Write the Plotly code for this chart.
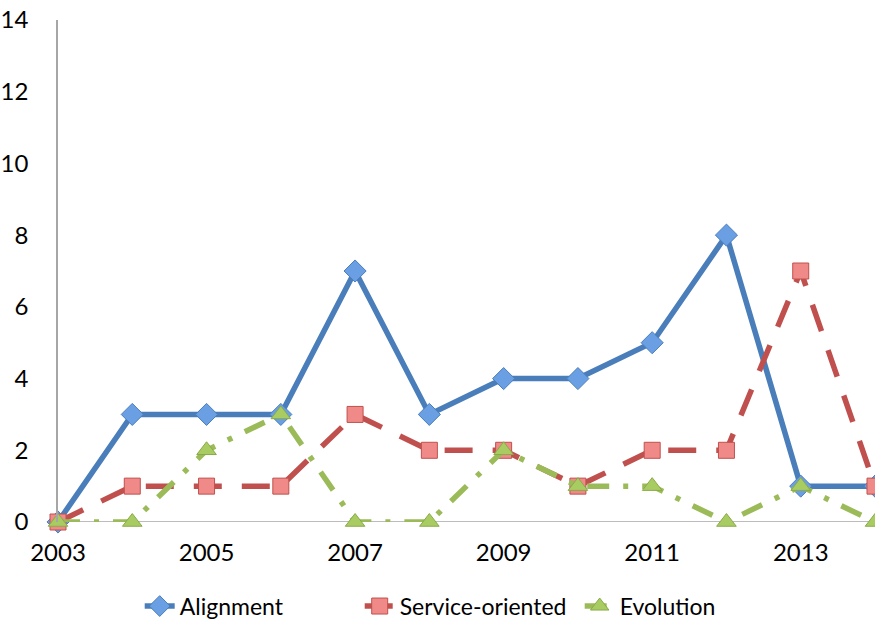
import plotly.graph_objects as go

years = [2003, 2004, 2005, 2006, 2007, 2008, 2009, 2010, 2011, 2012, 2013, 2014]
alignment = [0, 3, 3, 3, 7, 3, 4, 4, 5, 8, 1, 1]
service_oriented = [0, 1, 1, 1, 3, 2, 2, 1, 2, 2, 7, 1]
evolution = [0, 0, 2, 3, 0, 0, 2, 1, 1, 0, 1, 0]

x_ticks = [2003, 2005, 2007, 2009, 2011, 2013]
y_ticks = [0, 2, 4, 6, 8, 10, 12, 14]

FONT = 'Lato, "Open Sans", sans-serif'

fig = go.Figure()
fig.add_trace(go.Scatter(
    name='Alignment', x=years, y=alignment, mode='lines+markers',
    line=dict(color='#4A7EBB', width=5.5),
    marker=dict(symbol='diamond', size=17, color='#6A9FE3', line=dict(color='#4A7EBB', width=1)),
    cliponaxis=False,
))
fig.add_trace(go.Scatter(
    name='Service-oriented', x=years, y=service_oriented, mode='lines+markers',
    line=dict(color='#C0504D', width=5.5, dash='28px,20px'),
    marker=dict(symbol='square', size=16, color='#F08A88', line=dict(color='#C0504D', width=1)),
    cliponaxis=False,
))
fig.add_trace(go.Scatter(
    name='Evolution', x=years, y=evolution, mode='lines+markers',
    line=dict(color='#9BBB59', width=5.5, dash='22px,14px,5px,14px'),
    marker=dict(symbol='triangle-up', size=17, color='#A8CC62', line=dict(color='#8AAA48', width=1)),
    cliponaxis=False,
))

fig.update_layout(
    width=875, height=621,
    paper_bgcolor='white', plot_bgcolor='white',
    font=dict(family=FONT, size=23, color='black'),
    margin=dict(l=58, r=0, t=20, b=99, autoexpand=False),
    showlegend=True,
    legend=dict(
        orientation='h', xanchor='left', x=0.1, yanchor='middle',
        yref='container', y=0.024,
        font=dict(size=23), entrywidth=175, bgcolor='rgba(0,0,0,0)',
    ),
    xaxis=dict(
        range=[2003, 2014], tickvals=x_ticks, ticktext=[str(v) for v in x_ticks],
        showgrid=False, zeroline=False, showline=False, ticks='',
        ticklabelstandoff=14, tickfont=dict(size=24), automargin=False,
    ),
    yaxis=dict(
        range=[0, 14], tickvals=y_ticks, showgrid=False, zeroline=False,
        showline=True, linecolor='#A6A6A6', linewidth=1.5, ticks='',
        ticklabelstandoff=23, tickfont=dict(size=24), automargin=False,
        ticklabeloverflow='allow',
    ),
    shapes=[dict(type='line', xref='paper', yref='y', x0=0, x1=1, y0=0, y1=0,
                 line=dict(color='#A6A6A6', width=1.5), layer='below')],
)

# drop the default body margin so the chart sits flush in the window
fig.write_html(
    "out.html",
    config={'displayModeBar': False},
    post_script="document.body.style.margin='0';document.body.style.overflow='hidden';",
)
